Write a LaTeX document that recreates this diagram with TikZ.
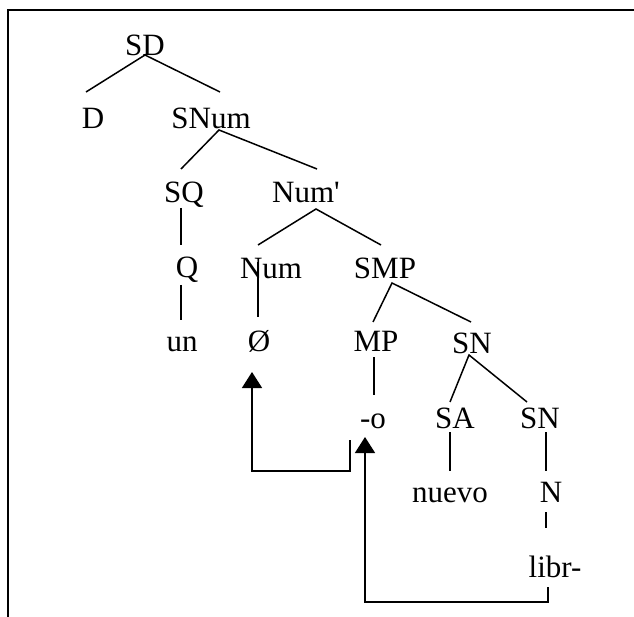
\documentclass[tikz,border=0pt]{standalone}
\usepackage{fontspec}
\setmainfont{Liberation Serif}[Ligatures=TeXOff]
\usetikzlibrary{arrows.meta}

\begin{document}
\begin{tikzpicture}[x=1pt,y=1pt,>={Triangle[width=20pt,length=16pt]},
  lbl/.style={anchor=base,inner sep=0pt,font=\fontsize{31}{36}\selectfont},
  branch/.style={line width=1.5pt},
  move/.style={line width=1.5pt,->}]
  \useasboundingbox (0,0) rectangle (634,-617);

  % Frame (top and left side only)
  \draw[line width=2pt] (634,-10) -- (8,-10) -- (8,-617);

  % Labels of the tree
  \node[lbl] (SD)   at (145,-56)  {SD};
  \node[lbl] (D)    at (93,-129)  {D};
  \node[lbl] (SNum) at (211,-129) {SNum};
  \node[lbl] (SQ)   at (184,-203) {SQ};
  \node[lbl] (NumP) at (306,-203) {Num'};
  \node[lbl] (Q)    at (187,-278) {Q};
  \node[lbl] (Num)  at (271,-279) {Num};
  \node[lbl] (SMP)  at (385,-279) {SMP};
  \node[lbl] (un)   at (182,-352) {un};
  \node[lbl] (Null) at (259,-352) {Ø};
  \node[lbl] (MP)   at (376,-352) {MP};
  \node[lbl] (SNa)  at (472,-353) {SN};
  \node[lbl] (Mo)   at (373,-428) {-o};
  \node[lbl] (SA)   at (455,-428) {SA};
  \node[lbl] (SNb)  at (540,-428) {SN};
  \node[lbl] (nuevo) at (450,-502) {nuevo};
  \node[lbl] (N)    at (551,-502) {N};
  \node[lbl] (Libr) at (555,-577) {libr-};

  % Branches
  \draw[branch] ([shift={(-7,37)}]D.base) -- ([shift={(0,1)}]SD.base) -- ([shift={(9,37)}]SNum.base);
  \draw[branch] ([shift={(-3,34)}]SQ.base) -- ([shift={(8,-1)}]SNum.base) -- ([shift={(11,34)}]NumP.base);
  \draw[branch] ([shift={(-3,-5)}]SQ.base) -- ([shift={(-6,33)}]Q.base);
  \draw[branch] ([shift={(-6,-7)}]Q.base) -- ([shift={(-1,32)}]un.base);
  \draw[branch] ([shift={(-13,34)}]Num.base) -- ([shift={(10,-6)}]NumP.base) -- ([shift={(-4,34)}]SMP.base);
  \draw[branch] ([shift={(-13,17)}]Num.base) -- ([shift={(-1,35)}]Null.base);
  \draw[branch] ([shift={(-3,30)}]MP.base) -- ([shift={(7,-4)}]SMP.base) -- ([shift={(-1,31)}]SNa.base);
  \draw[branch] ([shift={(-2,-5)}]MP.base) -- ([shift={(1,33)}]Mo.base);
  \draw[branch] ([shift={(-5,26)}]SA.base) -- ([shift={(-3,-2)}]SNa.base) -- ([shift={(-13,26)}]SNb.base);
  \draw[branch] ([shift={(-5,-4)}]SA.base) -- ([shift={(0,31)}]nuevo.base);
  \draw[branch] ([shift={(6,-4)}]SNb.base) -- ([shift={(-5,31)}]N.base);
  \draw[branch] ([shift={(-5,-10)}]N.base) -- ([shift={(-9,49)}]Libr.base);

  % Movement arrows
  \coordinate (moveA) at ([shift={(-23,-12)}]Mo.base);
  \coordinate (moveB) at ([shift={(-7,-10)}]Libr.base);
  \draw[move] (moveA) -- ++(0,-31) -| ([shift={(-7,-20)}]Null.base);
  \draw[move] (moveB) -- ++(0,-15) -| ([shift={(-8,-9)}]Mo.base);
\end{tikzpicture}
\end{document}
